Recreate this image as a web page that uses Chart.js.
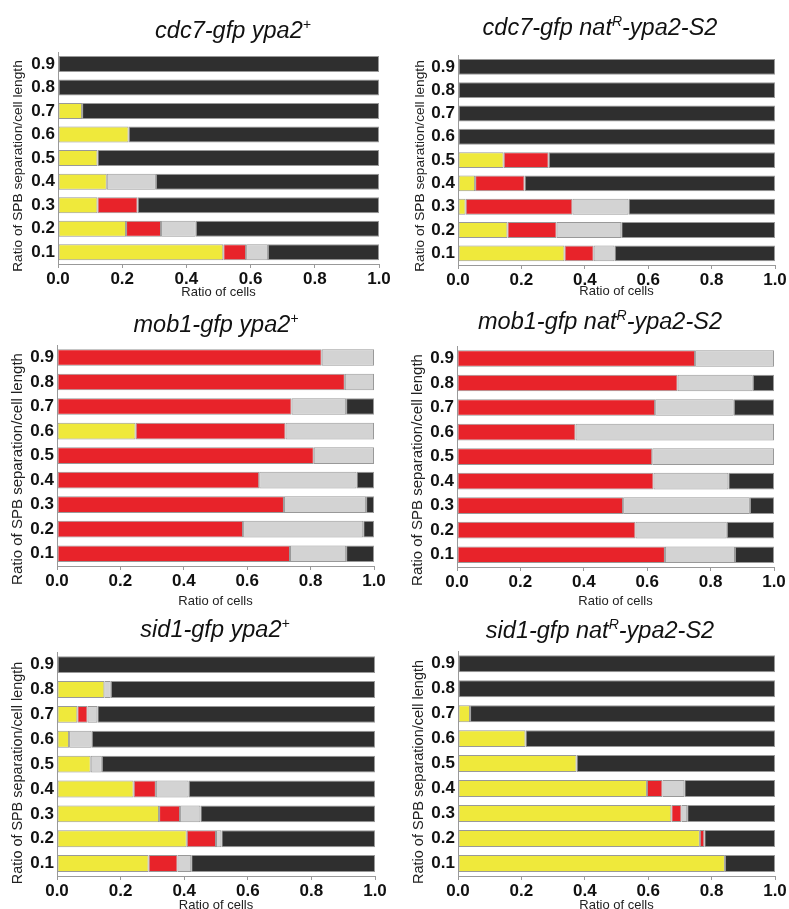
<!DOCTYPE html>
<html>
<head>
<meta charset="utf-8">
<script src="https://cdn.jsdelivr.net/npm/chart.js@4"></script>
<style>
  html, body { margin: 0; padding: 0; background: #fff; overflow: hidden; }
  body { width: 789px; height: 909px; position: relative; font-family: "Liberation Sans", Arial, sans-serif; }
  canvas { position: absolute; }
  .ttl { position: absolute; width: 400px; text-align: center; font-style: italic; font-size: 23.5px; line-height: 26px; color: #111; white-space: nowrap; }
  .ttl sup { font-size: 14px; vertical-align: 0; position: relative; top: -9px; }
</style>
</head>
<body>
<script>
// rows top to bottom
const categories = ['0.9', '0.8', '0.7', '0.6', '0.5', '0.4', '0.3', '0.2', '0.1'];
const xTickLabels = ['0.0', '0.2', '0.4', '0.6', '0.8', '1.0'];
const seriesNames = ['yellow', 'red', 'gray', 'dark'];

// cdc7-gfp ypa2+
const cdc7WtYellow = [0, 0, 0.075, 0.22, 0.123, 0.152, 0.123, 0.212, 0.515];
const cdc7WtRed    = [0, 0, 0, 0, 0, 0, 0.125, 0.109, 0.071];
const cdc7WtGray   = [0, 0, 0, 0, 0, 0.153, 0, 0.108, 0.068];
const cdc7WtDark   = [1, 1, 0.925, 0.78, 0.877, 0.695, 0.752, 0.571, 0.346];

// cdc7-gfp natR-ypa2-S2
const cdc7S2Yellow = [0, 0, 0, 0, 0.144, 0.054, 0.024, 0.156, 0.336];
const cdc7S2Red    = [0, 0, 0, 0, 0.142, 0.156, 0.337, 0.155, 0.092];
const cdc7S2Gray   = [0, 0, 0, 0, 0, 0, 0.177, 0.204, 0.066];
const cdc7S2Dark   = [1, 1, 1, 1, 0.714, 0.79, 0.462, 0.485, 0.506];

// mob1-gfp ypa2+
const mob1WtYellow = [0, 0, 0, 0.248, 0, 0, 0, 0, 0];
const mob1WtRed    = [0.835, 0.908, 0.74, 0.473, 0.81, 0.638, 0.716, 0.587, 0.735];
const mob1WtGray   = [0.165, 0.092, 0.172, 0.279, 0.19, 0.307, 0.259, 0.379, 0.177];
const mob1WtDark   = [0, 0, 0.088, 0, 0, 0.055, 0.025, 0.034, 0.088];

// mob1-gfp natR-ypa2-S2
const mob1S2Yellow = [0, 0, 0, 0, 0, 0, 0, 0, 0];
const mob1S2Red    = [0.751, 0.696, 0.625, 0.374, 0.616, 0.62, 0.524, 0.563, 0.656];
const mob1S2Gray   = [0.249, 0.237, 0.248, 0.626, 0.384, 0.236, 0.4, 0.288, 0.221];
const mob1S2Dark   = [0, 0.067, 0.127, 0, 0, 0.144, 0.076, 0.149, 0.123];

// sid1-gfp ypa2+
const sid1WtYellow = [0, 0.149, 0.064, 0.038, 0.106, 0.241, 0.321, 0.408, 0.288];
const sid1WtRed    = [0, 0, 0.032, 0, 0, 0.07, 0.066, 0.092, 0.091];
const sid1WtGray   = [0, 0.02, 0.031, 0.071, 0.035, 0.103, 0.064, 0.017, 0.043];
const sid1WtDark   = [1, 0.831, 0.873, 0.891, 0.859, 0.586, 0.549, 0.483, 0.578];

// sid1-gfp natR-ypa2-S2
const sid1S2Yellow = [0, 0, 0.038, 0.213, 0.374, 0.596, 0.673, 0.763, 0.842];
const sid1S2Red    = [0, 0, 0, 0, 0, 0.049, 0.032, 0.014, 0];
const sid1S2Gray   = [0, 0, 0, 0, 0, 0.069, 0.018, 0, 0];
const sid1S2Dark   = [1, 1, 0.962, 0.787, 0.626, 0.286, 0.277, 0.223, 0.158];

const panelTitles = [
  'cdc7-gfp ypa2<sup>+</sup>',
  'cdc7-gfp nat<sup>R</sup>-ypa2-S2',
  'mob1-gfp ypa2<sup>+</sup>',
  'mob1-gfp nat<sup>R</sup>-ypa2-S2',
  'sid1-gfp ypa2<sup>+</sup>',
  'sid1-gfp nat<sup>R</sup>-ypa2-S2'
];
const panelSeries = [
  [cdc7WtYellow, cdc7WtRed, cdc7WtGray, cdc7WtDark],
  [cdc7S2Yellow, cdc7S2Red, cdc7S2Gray, cdc7S2Dark],
  [mob1WtYellow, mob1WtRed, mob1WtGray, mob1WtDark],
  [mob1S2Yellow, mob1S2Red, mob1S2Gray, mob1S2Dark],
  [sid1WtYellow, sid1WtRed, sid1WtGray, sid1WtDark],
  [sid1S2Yellow, sid1S2Red, sid1S2Gray, sid1S2Dark]
];

const yTitle = 'Ratio of SPB separation/cell length';
const xTitle = 'Ratio of cells';
const colors = ['#efe93b', '#e8232a', '#d3d3d3', '#2f2f2f'];

// page positions of each panel (plot box, titles)
const layouts = [
  { cx: 0,   L: 58,  R: 379, T: 45,  B: 264, xt: 292, ytx: 18,  yty: 166, yts: 13.7, tx: 233, ty: 30 },
  { cx: 395, L: 458, R: 775, T: 48,  B: 265, xt: 291, ytx: 420, yty: 166, yts: 13.7, tx: 600, ty: 27 },
  { cx: 0,   L: 57,  R: 374, T: 338, B: 566, xt: 601, ytx: 18,  yty: 469, yts: 15,   tx: 216, ty: 324 },
  { cx: 395, L: 457, R: 774, T: 339, B: 567, xt: 601, ytx: 418, yty: 470, yts: 15,   tx: 600, ty: 321 },
  { cx: 0,   L: 57,  R: 375, T: 645, B: 876, xt: 905, ytx: 18,  yty: 773, yts: 14.4, tx: 215, ty: 629 },
  { cx: 395, L: 458, R: 775, T: 644, B: 876, xt: 905, ytx: 419, yty: 772, yts: 14.5, tx: 600, ty: 630 }
];

const FONT = '"Liberation Sans", Arial, sans-serif';

// rotated y title drawn at its own spot
const yTitlePlugin = {
  id: 'yTitlePlugin',
  afterDraw(chart, args, opts) {
    const ctx = chart.ctx;
    ctx.save();
    ctx.translate(opts.x, opts.y);
    ctx.rotate(-Math.PI / 2);
    ctx.font = opts.size + 'px ' + FONT;
    ctx.fillStyle = '#222';
    ctx.textAlign = 'center';
    ctx.textBaseline = 'middle';
    ctx.fillText(yTitle, 0, 0);
    ctx.restore();
  }
};

layouts.forEach((lay, i) => {
  const top = lay.T - 6;
  const width = 394;
  const height = lay.xt + 8 - top;

  const canvas = document.createElement('canvas');
  canvas.width = width;
  canvas.height = height;
  canvas.style.left = lay.cx + 'px';
  canvas.style.top = top + 'px';
  document.body.appendChild(canvas);

  const t = document.createElement('div');
  t.className = 'ttl';
  t.innerHTML = panelTitles[i];
  t.style.left = (lay.tx - 200) + 'px';
  t.style.top = (lay.ty - 13) + 'px';
  document.body.appendChild(t);

  const datasets = panelSeries[i].map((vals, k) => ({
    label: seriesNames[k],
    data: vals,
    backgroundColor: colors[k],
    borderColor: '#999',
    borderWidth: c => (c.raw ? 1 : 0),
    borderSkipped: false,
    barPercentage: 0.68,
    categoryPercentage: 1.0
  }));

  new Chart(canvas, {
    type: 'bar',
    data: { labels: categories, datasets: datasets },
    plugins: [yTitlePlugin],
    options: {
      indexAxis: 'y',
      responsive: false,
      animation: false,
      layout: { padding: { top: 6, right: lay.cx + width - lay.R, left: 0, bottom: 0 } },
      plugins: {
        legend: { display: false },
        tooltip: { enabled: false },
        yTitlePlugin: { x: lay.ytx - lay.cx, y: lay.yty - top, size: lay.yts }
      },
      scales: {
        x: {
          stacked: true,
          min: 0,
          max: 1,
          ticks: {
            stepSize: 0.2,
            autoSkip: false,
            padding: 1,
            maxRotation: 0,
            color: '#111',
            font: { family: FONT, size: 17, weight: 'bold' },
            callback: (v, idx) => xTickLabels[idx]
          },
          grid: { drawOnChartArea: false, drawTicks: true, tickLength: 4, color: '#999' },
          border: { display: true, color: '#999', width: 1 },
          title: {
            display: true,
            text: xTitle,
            color: '#222',
            padding: 0,
            font: { family: FONT, size: 13 }
          },
          afterFit: s => { s.height = height - 6 - (lay.B - lay.T); }
        },
        y: {
          stacked: true,
          ticks: {
            autoSkip: false,
            padding: 3,
            color: '#111',
            font: { family: FONT, size: 17, weight: 'bold' }
          },
          grid: { drawOnChartArea: false, drawTicks: false },
          border: { display: true, color: '#999', width: 1 },
          afterFit: s => { s.width = lay.L - lay.cx; }
        }
      }
    }
  });
});
</script>
</body>
</html>
